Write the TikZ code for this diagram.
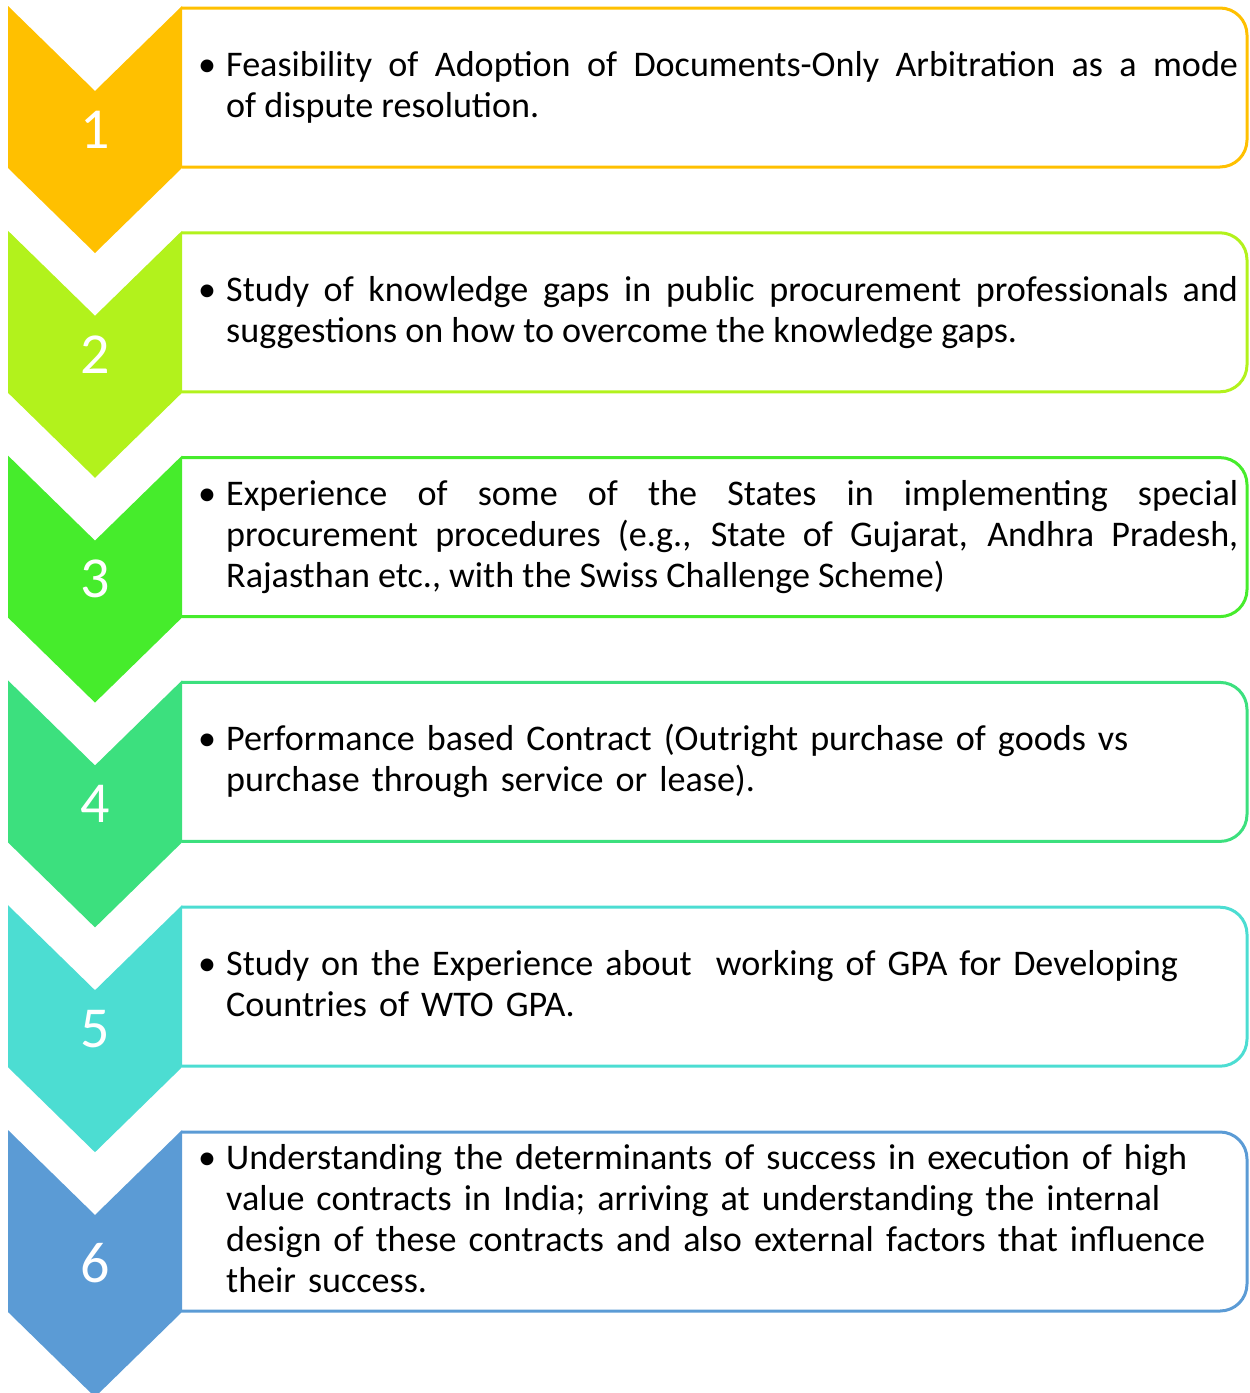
\documentclass[tikz,border=0pt]{standalone}
\usepackage{fontspec}
\setmainfont{Carlito}
\definecolor{cA}{HTML}{FFC000}
\definecolor{cB}{HTML}{B2F21C}
\definecolor{cC}{HTML}{46EC2C}
\definecolor{cD}{HTML}{3CE07E}
\definecolor{cE}{HTML}{4CDDD2}
\definecolor{cF}{HTML}{5B9BD5}
\tikzset{
  chev/.style={fill=#1, draw=none},
  boxline/.style={draw=#1, line width=3pt, rounded corners=27pt},
  numtext/.style={text=white, font=\fontsize{58}{60}\selectfont, inner sep=0pt},
  itemtext/.style={anchor=west, text width=1012pt, inner sep=0pt, align=#1,
    font=\fontsize{36.1}{41}\selectfont},
}
% #1 top, #2 side end, #3 colour, #4 number, #5 align, #6 text
\newcommand\stagerow[6]{%
  \coordinate (bt#4) at (182,{#1+2});
  \coordinate (bb#4) at (182,{#2-1});
  \draw[boxline=#3] (bt#4) -- (1247,{#1+2}) -- (1247,{#2-1}) -- (bb#4);
  \fill[chev=#3] (8,#1) -- (95,{#1+85}) -- (182,#1) -- (182,#2) -- (95,{#2+85}) -- (8,#2) -- cycle;
  \node[numtext] (n#4) at (95,{(#1+85+#2)/2}) {#4};
  \node[itemtext=#5] (t#4) at (226,{(#1+#2)/2+1.8}) {\strut\llap{•\hspace{10pt}}#6\strut};
}
\begin{document}
\begin{tikzpicture}[x=1pt,y=-1pt]
\useasboundingbox (0,0) rectangle (1250,1393);
\clip (0,0) rectangle (1250,1393);
\stagerow{6}{168}{cA}{1}{justify}{Feasibility of Adoption of Documents-Only Arbitration as a mode\linebreak of dispute resolution.}
\stagerow{230.8}{392.8}{cB}{2}{justify}{Study of knowledge gaps in public procurement professionals and\linebreak suggestions on how to overcome the knowledge gaps.}
\stagerow{455.6}{617.6}{cC}{3}{justify}{Experience of some of the States in implementing special\linebreak procurement procedures (e.g., State of Gujarat, Andhra Pradesh,\linebreak Rajasthan etc., with the Swiss Challenge Scheme)}
\stagerow{680.4}{842.4}{cD}{4}{left}{Performance based Contract (Outright purchase of goods vs\newline purchase through service or lease).}
\stagerow{905.2}{1067.2}{cE}{5}{left}{Study on the Experience about\ \ working of GPA for Developing\newline Countries of WTO GPA.}
\stagerow{1130}{1312}{cF}{6}{left}{Understanding the determinants of success in execution of high\newline value contracts in India; arriving at understanding the internal\newline design of these contracts and also external factors that influence\newline their success.}
\end{tikzpicture}
\end{document}
